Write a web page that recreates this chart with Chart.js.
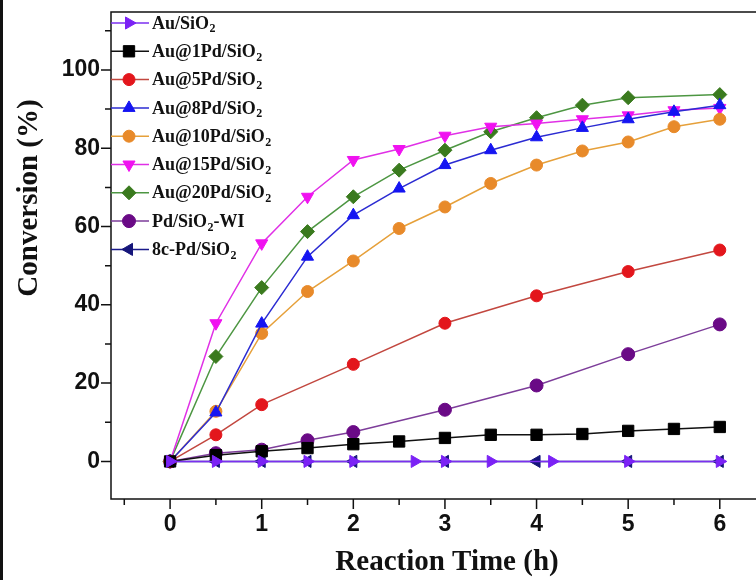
<!DOCTYPE html>
<html>
<head>
<meta charset="utf-8">
<script src="https://cdn.jsdelivr.net/npm/chart.js"></script>
<style>
  html, body { margin: 0; padding: 0; background: #fff; overflow: hidden; }
  #wrap { position: relative; width: 756px; height: 580px; overflow: hidden; }
  #edge { position: absolute; left: 0; top: 0; width: 3px; height: 580px; background: #111; }
  canvas { display: block; }
</style>
</head>
<body>
<div id="wrap">
  <canvas id="conv" width="792" height="580"></canvas>
  <div id="edge"></div>
</div>
<script>
// series (x = reaction time in h, y = conversion in %)
var seriesNames = ['Au/SiO2', 'Au@1Pd/SiO2', 'Au@5Pd/SiO2', 'Au@8Pd/SiO2', 'Au@10Pd/SiO2',
                   'Au@15Pd/SiO2', 'Au@20Pd/SiO2', 'Pd/SiO2-WI', '8c-Pd/SiO2'];

var tHalf = [0, 0.5, 1, 1.5, 2, 2.5, 3, 3.5, 4, 4.5, 5, 5.5, 6];

var tAu = [0, 0.5, 1, 1.5, 2, 2.67, 3, 3.5, 4.17, 5, 6];
var yAu = [0, 0, 0, 0, 0, 0, 0, 0, 0, 0, 0];

var yAu1Pd = [0, 1.6, 2.6, 3.4, 4.4, 5.1, 6.0, 6.8, 6.8, 7.0, 7.8, 8.3, 8.8];

var tAu5Pd = [0, 0.5, 1, 2, 3, 4, 5, 6];
var yAu5Pd = [0, 6.8, 14.5, 24.8, 35.3, 42.3, 48.5, 54.0];

var yAu8Pd = [0, 12.5, 35.2, 52.3, 62.9, 69.7, 75.7, 79.5, 82.8, 85.2, 87.4, 89.3, 91.0];

var yAu10Pd = [0, 12.8, 32.7, 43.4, 51.2, 59.5, 65.0, 71.0, 75.7, 79.3, 81.6, 85.5, 87.4];

var yAu15Pd = [0, 35.3, 55.7, 67.6, 77.0, 79.8, 83.2, 85.5, 86.3, 87.4, 88.4, 89.7, 90.3];

var tAu20Pd = [0, 0.5, 1, 1.5, 2, 2.5, 3, 3.5, 4, 4.5, 5, 6];
var yAu20Pd = [0, 26.8, 44.4, 58.7, 67.6, 74.4, 79.5, 84.2, 87.8, 91.0, 92.9, 93.7];

var tWI = [0, 0.5, 1, 1.5, 2, 3, 4, 5, 6];
var yWI = [0, 2.1, 3.0, 5.4, 7.5, 13.2, 19.4, 27.4, 35.0];

var t8c = [0, 0.5, 1, 1.5, 2, 3, 4, 5, 6];
var y8c = [0, 0, 0, 0, 0, 0, 0, 0, 0];

var xMajorTicks = [0, 1, 2, 3, 4, 5, 6];
var yMajorTicks = [0, 20, 40, 60, 80, 100];

function pts(xs, ys) {
    return xs.map(function (x, i) { return { x: x, y: ys[i] }; });
}

var serif = "'Liberation Serif', 'Times New Roman', serif";
var sans = "'Liberation Sans', Arial, sans-serif";

function series(i, xs, ys, line, mark, style, rot, r) {
    return {
        label: seriesNames[i], data: pts(xs, ys),
        borderColor: line, borderWidth: 1.5, backgroundColor: mark,
        pointStyle: style, pointRotation: rot, pointRadius: r, pointHoverRadius: r,
        pointBackgroundColor: mark, pointBorderColor: mark, pointBorderWidth: 1,
        tension: 0, fill: false
    };
}

var datasets = [
    series(0, tAu, yAu, '#7b2ff0', '#7b22f5', 'triangle', 90, 7),
    series(1, tHalf, yAu1Pd, '#111111', '#000000', 'rect', 0, 8),
    series(2, tAu5Pd, yAu5Pd, '#c2473f', '#e3161c', 'circle', 0, 6),
    series(3, tHalf, yAu8Pd, '#2b2bd2', '#1515f2', 'triangle', 0, 7),
    series(4, tHalf, yAu10Pd, '#e6a03a', '#e88a2a', 'circle', 0, 6),
    series(5, tHalf, yAu15Pd, '#e030e6', '#f012f0', 'triangle', 180, 7),
    series(6, tAu20Pd, yAu20Pd, '#4d9642', '#3a7a1e', 'rectRot', 0, 7),
    series(7, tWI, yWI, '#7d3d9a', '#6a0a86', 'circle', 0, 6.5),
    series(8, t8c, y8c, '#1a1a8a', '#15157a', 'triangle', 270, 7)
];

function drawMarker(ctx, ds, x, y) {
    ctx.fillStyle = ds.pointBackgroundColor;
    ctx.strokeStyle = ds.pointBorderColor;
    ctx.lineWidth = 1;
    if (Chart.helpers && Chart.helpers.drawPoint) {
        Chart.helpers.drawPoint(ctx, { pointStyle: ds.pointStyle, radius: ds.pointRadius, rotation: ds.pointRotation, borderWidth: 1 }, x, y);
    } else {
        ctx.beginPath(); ctx.arc(x, y, ds.pointRadius, 0, Math.PI * 2); ctx.fill(); ctx.stroke();
    }
}

// label text with the "2" in SiO2 set as a subscript
function drawChem(ctx, text, x, y, size) {
    var parts = text.split(/(?<=SiO)2/);
    ctx.textBaseline = 'middle';
    ctx.textAlign = 'left';
    parts.forEach(function (p, i) {
        ctx.font = 'bold ' + size + 'px ' + serif;
        ctx.fillText(p, x, y);
        x += ctx.measureText(p).width;
        if (i < parts.length - 1) {
            ctx.font = 'bold ' + Math.round(size * 0.68) + 'px ' + serif;
            ctx.fillText('2', x + 0.5, y + size * 0.3);
            x += ctx.measureText('2').width + 0.5;
        }
    });
}

var legendInside = {
    id: 'legendInside',
    afterDraw: function (chart) {
        var ctx = chart.ctx, a = chart.chartArea;
        ctx.save();
        chart.data.datasets.forEach(function (ds, i) {
            var y = a.top + 11 + i * 28.3;
            ctx.strokeStyle = ds.borderColor;
            ctx.lineWidth = 1.5;
            ctx.beginPath(); ctx.moveTo(a.left, y); ctx.lineTo(a.left + 38, y); ctx.stroke();
            drawMarker(ctx, ds, a.left + 18, y);
            ctx.fillStyle = '#111';
            drawChem(ctx, ds.label, a.left + 41, y + 1, 18);
        });
        ctx.restore();
    }
};

var frame = {
    id: 'frame',
    afterDraw: function (chart) {
        var ctx = chart.ctx, a = chart.chartArea, sx = chart.scales.x, sy = chart.scales.y;
        ctx.save();
        ctx.strokeStyle = '#111';
        ctx.lineWidth = 1.5;
        ctx.strokeRect(a.left, a.top, a.right - a.left, a.bottom - a.top);
        ctx.beginPath();
        sx.ticks.forEach(function (t) {
            var px = sx.getPixelForValue(t.value);
            var len = xMajorTicks.indexOf(t.value) >= 0 ? 10 : 6;
            ctx.moveTo(px, a.bottom); ctx.lineTo(px, a.bottom + len);
        });
        sy.ticks.forEach(function (t) {
            var py = sy.getPixelForValue(t.value);
            var len = yMajorTicks.indexOf(t.value) >= 0 ? 10 : 6;
            ctx.moveTo(a.left, py); ctx.lineTo(a.left - len, py);
        });
        ctx.stroke();
        // y axis title
        ctx.translate(30, 198);
        ctx.rotate(-Math.PI / 2);
        ctx.fillStyle = '#111';
        ctx.font = 'bold 29px ' + serif;
        ctx.textAlign = 'center';
        ctx.textBaseline = 'middle';
        ctx.fillText('Conversion (%)', 0, 0);
        ctx.restore();
    }
};

new Chart(document.getElementById('conv').getContext('2d'), {
    type: 'line',
    data: { datasets: datasets },
    plugins: [frame, legendInside],
    options: {
        responsive: false, animation: false,
        layout: { padding: { top: 12, left: 0, right: 0, bottom: 0 } },
        plugins: { legend: { display: false }, tooltip: { enabled: false } },
        scales: {
            x: {
                type: 'linear', min: -0.645, max: 6.69,
                afterBuildTicks: function (s) {
                    var t = [];
                    for (var v = -0.5; v <= 6.5; v += 0.5) t.push({ value: v });
                    s.ticks = t;
                },
                afterFit: function (s) { s.height = 81; s.paddingLeft = 0; s.paddingRight = 0; },
                grid: { display: false, drawTicks: false },
                border: { display: false },
                ticks: {
                    autoSkip: false, maxRotation: 0, padding: 12, color: '#111',
                    font: { family: sans, size: 23, weight: 'bold' },
                    callback: function (v) { return xMajorTicks.indexOf(v) >= 0 ? String(v) : ''; }
                },
                title: {
                    display: true, text: 'Reaction Time (h)', color: '#111',
                    padding: { top: 0, bottom: 0 },
                    font: { family: serif, size: 29, weight: 'bold' }
                }
            },
            y: {
                min: -9.6, max: 114.8,
                afterBuildTicks: function (s) {
                    var t = [];
                    for (var v = 0; v <= 110; v += 10) t.push({ value: v });
                    s.ticks = t;
                },
                afterFit: function (s) { s.width = 111; s.paddingTop = 0; s.paddingBottom = 0; },
                grid: { display: false, drawTicks: false },
                border: { display: false },
                ticks: {
                    autoSkip: false, padding: 11, color: '#111',
                    font: { family: sans, size: 23, weight: 'bold' },
                    callback: function (v) { return yMajorTicks.indexOf(v) >= 0 ? String(v) : ''; }
                }
            }
        }
    }
});
</script>
</body>
</html>
